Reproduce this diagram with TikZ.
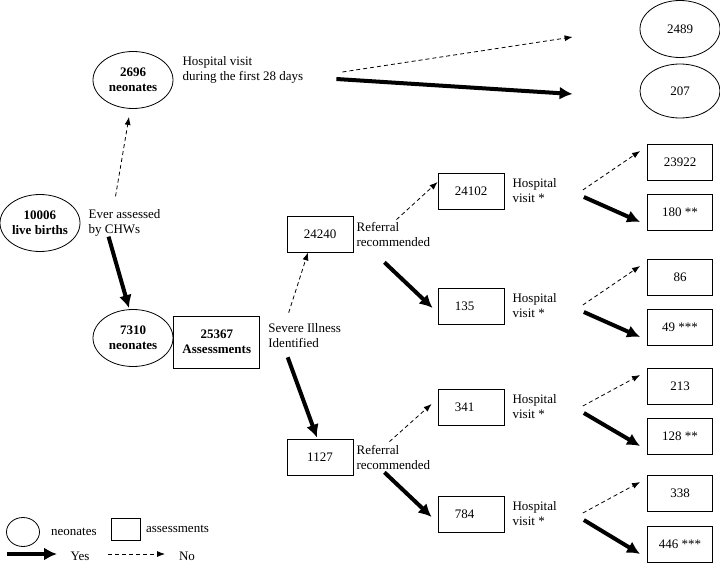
\documentclass[tikz,border=0pt]{standalone}
\usepackage{fontspec}
\setmainfont{Liberation Serif}
\usepackage{tikz}
\usetikzlibrary{arrows.meta,positioning,shapes.geometric}

\begin{document}
\begin{tikzpicture}[x=1pt, y=-1pt,
    every node/.style={font=\fontsize{13}{15}\selectfont},
    neo/.style={draw, ellipse, line width=0.8pt, minimum width=80pt, minimum height=57pt, inner sep=0pt, align=center},
    asm/.style={draw, rectangle, line width=0.8pt, minimum width=66pt, minimum height=36pt, inner sep=0pt, align=center},
    txt/.style={align=left, inner sep=2pt},
    yesarr/.style={line width=4pt, -{Latex[length=13pt,width=13pt]}},
    noarr/.style={line width=0.8pt, dash pattern=on 4pt off 3pt, -{Latex[length=8pt,width=6pt]}}]
      \useasboundingbox (0,0) rectangle (720,564);

      % births and neonates
      \node[neo] (n10006) at (40,223) {\textbf{10006}\\\textbf{live births}};
      \node[txt, right=6pt of n10006] (ever) {Ever assessed\\by CHWs};
      \node[neo] (n2696) at (133,80) {\textbf{2696}\\\textbf{neonates}};
      \node[txt, right=7pt of n2696, yshift=10pt] (hosp) {Hospital visit\\during the first 28 days};
      \node[neo] (n2489) at (680,29) {2489};
      \node[neo, minimum height=54pt] (n207) at (680,91) {207};
      \node[neo] (n7310) at (133,338) {\textbf{7310}\\\textbf{neonates}};
      \node[asm, minimum width=86pt, minimum height=52pt, right=0pt of n7310, yshift=-4pt] (n25367) {\textbf{25367}\\\textbf{Assessments}};
      \node[txt, right=6pt of n25367, yshift=6pt] (sev) {Severe Illness\\Identified};

      % referral
      \node[asm] (n24240) at (320,234) {24240};
      \node[txt, right=1pt of n24240] (ref1) {Referral\\recommended};
      \node[asm] (n1127) at (320,457) {1127};
      \node[txt, right=1pt of n1127] (ref2) {Referral\\recommended};

      \node[asm] (n24102) at (471,191) {24102};
      \node[asm] (n135) at (471,306) {135\quad};
      \node[asm] (n341) at (471,407) {341\quad};
      \node[asm] (n784) at (471,514) {784\quad};
      \node[txt, right=6pt of n24102] (hv1) {Hospital\\visit *};
      \node[txt, right=6pt of n135] (hv2) {Hospital\\visit *};
      \node[txt, right=6pt of n341] (hv3) {Hospital\\visit *};
      \node[txt, right=6pt of n784] (hv4) {Hospital\\visit *};

      % hospital visit outcome
      \node[asm, minimum width=65pt] (n23922) at (680,162) {23922};
      \node[asm, minimum width=65pt] (n180) at (680,212) {180 **};
      \node[asm, minimum width=65pt] (n86) at (680,277) {86};
      \node[asm, minimum width=65pt] (n49) at (680,327) {49 ***};
      \node[asm, minimum width=65pt] (n213) at (680,386) {213};
      \node[asm, minimum width=65pt] (n128) at (680,436) {128 **};
      \node[asm, minimum width=65pt] (n338) at (680,493) {338};
      \node[asm, minimum width=65pt] (n446) at (680,544) {446 ***};

      % legend
      \node[neo, minimum width=33pt, minimum height=29pt] (lgneo) at (23,532) {};
      \node[txt, right=9pt of lgneo] (lgneotxt) {neonates};
      \node[asm, minimum width=29pt, minimum height=22pt] (lgasm) at (126,529) {};
      \node[txt, right=3pt of lgasm] (lgasmtxt) {assessments};
      \coordinate (yesa) at (7,554);
      \coordinate (yesb) at (57,554);
      \node[txt] (yes) at (80,556) {Yes};
      \coordinate (noa) at (108,554);
      \coordinate (nob) at (165,554);
      \node[txt] (no) at (187,556) {No};

      \draw[noarr] ([xshift=-9pt,yshift=11pt]ever.north) -- ([xshift=-4pt,yshift=-8pt]n2696.south);
      \draw[yesarr] ([xshift=-16pt,yshift=2pt]ever.south) -- ([xshift=-4pt,yshift=1pt]n7310.north);
      \draw[noarr] ([xshift=37pt,yshift=-2pt]hosp.east) -- ([xshift=-67pt,yshift=-8pt]n2489.west);
      \draw[yesarr] ([xshift=31pt,yshift=-9pt]hosp.east) -- ([xshift=-67pt,yshift=-3pt]n207.west);

      \draw[noarr] ([xshift=-16pt,yshift=9pt]sev.north) -- ([xshift=-12pt]n24240.south);
      \draw[yesarr] ([xshift=-17pt,yshift=-7pt]sev.south) -- ([xshift=-3pt,yshift=1pt]n1127.north);

      \draw[noarr] ([xshift=3pt]ref1.north) -- ([yshift=9pt]n24102.west);
      \draw[yesarr] ([xshift=-9pt,yshift=-14pt]ref1.south) -- ([xshift=-5pt,yshift=-2pt]n135.west);
      \draw[noarr] ([xshift=-4pt,yshift=1pt]ref2.north) -- ([xshift=-6pt,yshift=3pt]n341.west);
      \draw[yesarr] ([xshift=-9pt,yshift=-1pt]ref2.south) -- ([xshift=-6pt,yshift=-3pt]n784.west);

      \draw[noarr] ([xshift=24pt,yshift=1pt]hv1.east) -- ([xshift=-7pt,yshift=11pt]n23922.west);
      \draw[yesarr] ([xshift=25pt,yshift=-6pt]hv1.east) -- ([xshift=-7pt,yshift=-10pt]n180.west);
      \draw[noarr] ([xshift=24pt,yshift=1pt]hv2.east) -- ([xshift=-7pt,yshift=11pt]n86.west);
      \draw[yesarr] ([xshift=25pt,yshift=-6pt]hv2.east) -- ([xshift=-7pt,yshift=-10pt]n49.west);
      \draw[noarr] ([xshift=24pt,yshift=1pt]hv3.east) -- ([xshift=-7pt,yshift=11pt]n213.west);
      \draw[yesarr] ([xshift=25pt,yshift=-6pt]hv3.east) -- ([xshift=-7pt,yshift=-10pt]n128.west);
      \draw[noarr] ([xshift=24pt,yshift=1pt]hv4.east) -- ([xshift=-7pt,yshift=11pt]n338.west);
      \draw[yesarr] ([xshift=25pt,yshift=-6pt]hv4.east) -- ([xshift=-7pt,yshift=-10pt]n446.west);

      \draw[yesarr] (yesa) -- (yesb);
      \draw[noarr] (noa) -- (nob);
    \end{tikzpicture}
\end{document}
